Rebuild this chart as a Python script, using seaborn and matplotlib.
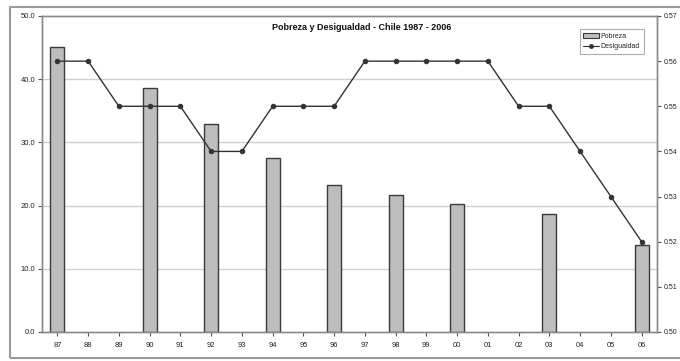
import matplotlib
matplotlib.use("Agg")
import matplotlib.pyplot as plt
import seaborn as sns
from matplotlib.patches import Rectangle, Patch
from matplotlib.lines import Line2D

years = ["87", "88", "89", "90", "91", "92", "93", "94", "95", "96",
         "97", "98", "99", "00", "01", "02", "03", "04", "05", "06"]
poverty_years = ["87", "90", "92", "94", "96", "98", "00", "03", "06"]
poverty = [45.1, 38.6, 32.9, 27.6, 23.2, 21.7, 20.2, 18.7, 13.7]
inequality = [0.56, 0.56, 0.55, 0.55, 0.55, 0.54, 0.54, 0.55, 0.55, 0.55,
              0.56, 0.56, 0.56, 0.56, 0.56, 0.55, 0.55, 0.54, 0.53, 0.52]
left_ticks = [0, 10, 20, 30, 40, 50]
right_ticks = [0.50, 0.51, 0.52, 0.53, 0.54, 0.55, 0.56, 0.57]
title = "Pobreza y Desigualdad - Chile 1987 - 2006"

sns.set_theme(style="white")
plt.rcParams['font.family'] = ['Liberation Sans', 'DejaVu Sans']

W, H = 680, 361
fig = plt.figure(figsize=(W / 100, H / 100), dpi=100)
fig.patch.set_facecolor("white")

# outer chart border
fig.add_artist(Rectangle((10 / W, 1 - 358 / H), 672 / W, 351 / H,
                         transform=fig.transFigure, fill=False,
                         edgecolor="#9a9a9a", linewidth=1.5))

AX_L, AX_R, AX_T, AX_B = 42, 657, 16, 332
ax = fig.add_axes([AX_L / W, 1 - AX_B / H, (AX_R - AX_L) / W, (AX_B - AX_T) / H])
ax2 = ax.twinx()

sns.barplot(x=poverty_years, y=poverty, order=years, ax=ax,
            color="#bdbdbd", saturation=1, edgecolor="#3a3a3a",
            linewidth=1.0, width=0.45, zorder=3)

sns.pointplot(x=years, y=inequality, order=years, ax=ax2,
              color="#333333", markers="o", markersize=3.2,
              linewidth=1.0, zorder=4)

ax.set_ylim(0, 50)
ax.set_yticks(left_ticks)
ax.set_yticklabels([f"{v:.1f}" for v in left_ticks])
ax2.set_ylim(0.50, 0.57)
ax2.set_yticks(right_ticks)
ax2.set_yticklabels([f"{v:.2f}" for v in right_ticks])
ax.set_xlim(-0.5, 19.5)
ax2.set_xlim(-0.5, 19.5)
ax.set_xticks(range(len(years)))
ax.set_xticklabels(years)
ax.set_xlabel("")
ax.set_ylabel("")
ax2.set_xlabel("")
ax2.set_ylabel("")

for v in left_ticks[1:-1]:
    ax.axhline(v, color="#cfcfcf", linewidth=1.0, zorder=0)

for a in (ax, ax2):
    for s in a.spines.values():
        s.set_color("#8a8a8a")
        s.set_linewidth(1.0)
ax.tick_params(axis="y", which="both", left=True, length=3, width=0.8,
               color="#555555", labelsize=5.5, labelcolor="#222222", pad=2)
ax.tick_params(axis="x", bottom=True, length=3, width=0.8, color="#555555",
               labelsize=5.5, labelcolor="#222222", pad=4)
ax2.tick_params(axis="y", right=True, length=3, width=0.8, color="#555555",
                labelsize=5, labelcolor="#222222", pad=1.5)

fig.text(362 / W, 1 - 28 / H, title, ha="center", va="center",
         fontsize=6.5, fontweight="bold", color="#111111")

handles = [Patch(facecolor="#bdbdbd", edgecolor="#3a3a3a", linewidth=0.8),
           Line2D([0], [0], color="#333333", marker="o", markersize=2.5,
                  linewidth=0.8)]
leg = ax2.legend(handles, ["Pobreza", "Desigualdad"], loc="upper right",
                 bbox_to_anchor=((647 - AX_L) / (AX_R - AX_L), (AX_B - 26) / (AX_B - AX_T)),
                 fontsize=5, frameon=True, fancybox=False, borderpad=0.5,
                 handlelength=2.2, handletextpad=0.3, labelspacing=0.5)
leg.get_frame().set_edgecolor("#9a9a9a")
leg.get_frame().set_linewidth(0.8)
ax2.set_zorder(ax.get_zorder() + 1)
ax2.patch.set_visible(False)

fig.savefig("out.png", dpi=100)
